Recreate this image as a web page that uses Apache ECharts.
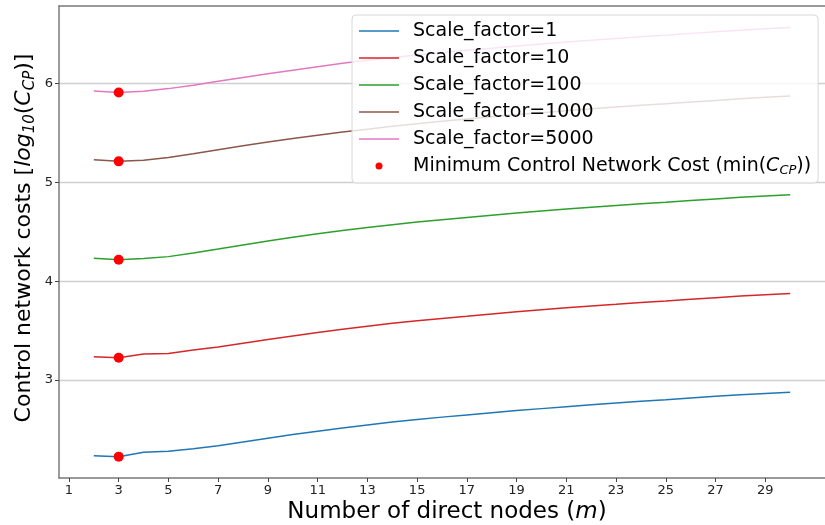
<!DOCTYPE html>
<html><head><meta charset="utf-8">
<script src="https://cdn.jsdelivr.net/npm/echarts@6/dist/echarts.min.js"></script>
<style>html,body{margin:0;padding:0;background:#fff}#c{width:825px;height:525px}</style>
</head><body><div id="c"></div>
<script>
const nodes = [2,3,4,5,6,7,8,9,10,11,12,13,14,15,16,17,18,19,20,21,22,23,24,25,26,27,28,29,30];
const sf1 = [2.234,2.224,2.268,2.278,2.305,2.335,2.372,2.410,2.447,2.482,2.515,2.545,2.574,2.600,2.624,2.646,2.668,2.690,2.710,2.730,2.749,2.767,2.784,2.800,2.818,2.834,2.850,2.864,2.876];
const sf10 = [3.236,3.224,3.262,3.268,3.302,3.334,3.372,3.409,3.446,3.481,3.514,3.543,3.573,3.599,3.623,3.645,3.668,3.690,3.710,3.730,3.749,3.766,3.784,3.800,3.817,3.833,3.849,3.863,3.874];
const sf100 = [4.232,4.217,4.228,4.248,4.285,4.325,4.366,4.405,4.443,4.479,4.512,4.542,4.571,4.598,4.622,4.645,4.667,4.689,4.709,4.729,4.748,4.766,4.783,4.799,4.816,4.832,4.848,4.862,4.874];
const sf1000 = [5.228,5.212,5.224,5.252,5.290,5.330,5.370,5.408,5.443,5.476,5.508,5.538,5.567,5.593,5.618,5.641,5.663,5.685,5.705,5.725,5.744,5.762,5.780,5.796,5.813,5.829,5.845,5.860,5.873];
const sf5000 = [5.925,5.909,5.922,5.948,5.983,6.022,6.060,6.098,6.135,6.170,6.204,6.234,6.263,6.289,6.313,6.336,6.357,6.379,6.399,6.419,6.438,6.456,6.473,6.489,6.507,6.523,6.539,6.553,6.567];
const minX = [3,3,3,3,3];
const minY = [2.224,3.224,4.217,5.212,5.909];
const seriesNames = ['Scale_factor=1','Scale_factor=10','Scale_factor=100','Scale_factor=1000','Scale_factor=5000'];
const minName = 'Minimum Control Network Cost (min(C_CP))';
const xTicks = [1,3,5,7,9,11,13,15,17,19,21,23,25,27,29];
const yTicks = [3,4,5,6];

const colors = ['#1f77b4','#d62728','#2ca02c','#8c564b','#e377c2'];
const allY = [sf1,sf10,sf100,sf1000,sf5000];
const FF = 'DejaVu Sans';
const spine = {color:'#7a7a7a', width:1.5};

const series = allY.map((ys,i)=>({
  name: seriesNames[i], type:'line', symbol:'none', z:3,
  lineStyle:{color:colors[i], width:1.5}, itemStyle:{color:colors[i]},
  data: nodes.map((x,j)=>[x, ys[j]])
}));
series.push({
  name: minName, type:'scatter', symbol:'circle', symbolSize:10, z:5,
  itemStyle:{color:'#ff0000', opacity:1},
  data: minX.map((x,j)=>[x, minY[j]])
});

const lineIcon = 'path://M0,0H40V1.6H0Z';
const chart = echarts.init(document.getElementById('c'), null, {renderer:'canvas'});
chart.setOption({
  animation:false,
  backgroundColor:'#ffffff',
  grid:{left:59, top:6, right:-10, bottom:47, containLabel:false},
  xAxis:[{
    type:'value', min:0.6, max:31.4,
    axisLine:{show:true, lineStyle:spine},
    axisTick:{show:true, length:4, lineStyle:{color:'#444', width:1}, customValues:xTicks},
    axisLabel:{show:true, customValues:xTicks, fontSize:13, fontFamily:FF, color:'#222', margin:6},
    splitLine:{show:false}
  },{
    type:'value', position:'top', min:0.6, max:31.4,
    axisLine:{show:true, lineStyle:spine},
    axisTick:{show:false}, axisLabel:{show:false}, splitLine:{show:false}
  }],
  yAxis:{
    type:'value', min:2.008, max:6.784,
    axisLine:{show:true, lineStyle:spine},
    axisTick:{show:true, length:4, lineStyle:{color:'#444', width:1}, customValues:yTicks},
    axisLabel:{show:true, customValues:yTicks, fontSize:13, fontFamily:FF, color:'#222', margin:6},
    splitLine:{show:true, lineStyle:{color:'#cfcfcf', width:1.3}}
  },
  legend:{
    orient:'vertical', left:352, top:15, z:10,
    backgroundColor:'rgba(255,255,255,0.8)', borderColor:'#d8d8d8', borderWidth:1, borderRadius:4,
    padding:[5,7,6,7], itemWidth:40, itemHeight:7, itemGap:5,
    data: seriesNames.map(n=>({name:n, icon:lineIcon})).concat([{name:minName, icon:'circle'}]),
    formatter: function(n){
      if (n === minName) return '{n|Minimum Control Network Cost (min(}{i|C}{s|CP}{n|))}';
      return '{n|' + n + '}';
    },
    textStyle:{
      fontFamily:FF, fontSize:19, color:'#000', lineHeight:22, padding:[0,0,0,9],
      rich:{
        n:{fontFamily:FF, fontSize:19, color:'#000', lineHeight:22},
        i:{fontFamily:FF, fontSize:19, fontStyle:'italic', color:'#000', lineHeight:22},
        s:{fontFamily:FF, fontSize:13, fontStyle:'italic', color:'#000', verticalAlign:'bottom', lineHeight:14}
      }
    }
  },
  graphic:[
    {type:'text', x:447, y:512, z:10, style:{
      text:'{n|Number of direct nodes (}{i|m}{n|)}', align:'center', verticalAlign:'middle',
      rich:{
        n:{fontFamily:FF, fontSize:23, fill:'#000'},
        i:{fontFamily:FF, fontSize:23, fontStyle:'italic', fill:'#000'}
      }
    }},
    {type:'text', x:24, y:238, rotation:Math.PI/2, z:10, style:{
      text:'{n|Control network costs [}{i|log}{s|10}{n|(}{i|C}{s|CP}{n|)]}', align:'center', verticalAlign:'middle',
      rich:{
        n:{fontFamily:FF, fontSize:22, fill:'#000', lineHeight:27},
        i:{fontFamily:FF, fontSize:22, fontStyle:'italic', fill:'#000', lineHeight:27},
        s:{fontFamily:FF, fontSize:15, fontStyle:'italic', fill:'#000', verticalAlign:'bottom', lineHeight:16}
      }
    }}
  ],
  series: series
});
</script>
</body></html>
